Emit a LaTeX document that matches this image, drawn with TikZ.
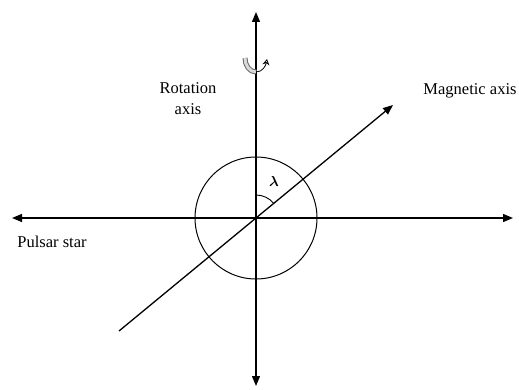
\documentclass[tikz,border=0pt]{standalone}
\usepackage{amsmath}
\usepackage{fontspec}
\setmainfont{Liberation Serif}
\usetikzlibrary{arrows.meta}

\begin{document}
\begin{tikzpicture}[x=1pt,y=1pt,
  axisline/.style={line width=1.3pt,-{Triangle[length=10pt,width=8pt]}},
  lbl/.style={font=\fontsize{16.5}{21}\selectfont,align=center,inner sep=0pt}]
\useasboundingbox (0,0) rectangle (519,389);
\coordinate (O) at (256,171);
\coordinate (top) at (256,377);
\coordinate (bot) at (256,3);
\coordinate (lft) at (12,171);
\coordinate (rgt) at (513,171);
\coordinate (mstart) at (119,58);
\coordinate (mtip) at (393,284);
% axes
\draw[axisline] (O) -- (top);
\draw[axisline] (O) -- (bot);
\draw[axisline] (O) -- (lft);
\draw[axisline] (O) -- (rgt);
\draw[axisline] (mstart) -- (mtip);
\draw[line width=1pt] (O) circle (61);
% angle lambda
\draw[line width=0.9pt] (O) ++(90:23) arc (90:39.5:23);
\node (lam) at (274,208) {\Large$\boldsymbol{\lambda}$};
% rotation sign
\draw[black!60,line width=5pt] (245,331) to[out=-90,in=180] (256,317);
\draw[gray!30,line width=3pt] (245,331) to[out=-90,in=180] (256,317);
\draw[line width=0.8pt,-{Stealth[open,length=6pt,width=7pt]}] (256,317) to[out=0,in=-100] (267,330);
% labels
\node[lbl] (rot) at (188,290) {Rotation\\axis};
\node[lbl] (mag) at (470,298) {Magnetic axis};
\node[lbl] (pul) at (52,147) {Pulsar star};
\end{tikzpicture}
\end{document}
